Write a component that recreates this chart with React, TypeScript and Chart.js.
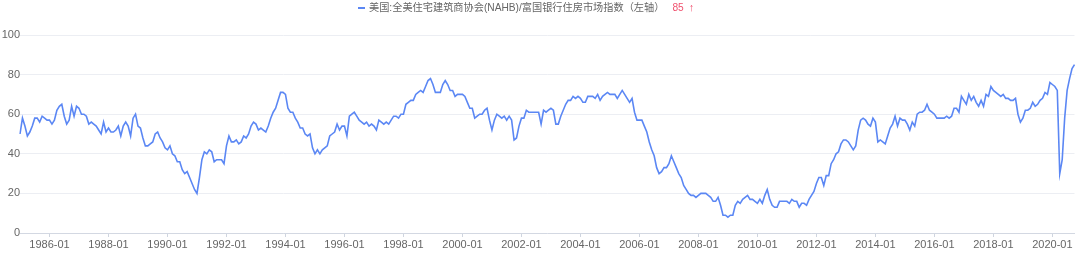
import { useEffect, useRef } from "react";
import { Chart, registerables } from "chart.js";

Chart.register(...registerables);

const SERIES_NAME = "美国:全美住宅建筑商协会(NAHB)/富国银行住房市场指数（左轴）";
const LATEST_TEXT = "85";
const ARROW_TEXT = "↑";
const START_YEAR = 1985;
const END_YEAR = 2020;
const END_MONTH = 10;

// Monthly index values, one row per year
const v1985 = [50, 58, 54, 49, 51, 54, 58, 58, 56, 59, 58, 57];
const v1986 = [57, 55, 57, 62, 64, 65, 59, 55, 57, 64, 59, 64];
const v1987 = [63, 60, 60, 59, 55, 56, 55, 54, 52, 50, 56, 51];
const v1988 = [53, 51, 51, 52, 54, 49, 54, 56, 54, 49, 58, 60];
const v1989 = [54, 53, 48, 44, 44, 45, 46, 50, 51, 48, 46, 43];
const v1990 = [42, 44, 40, 39, 36, 36, 32, 30, 31, 28, 25, 22];
const v1991 = [20, 28, 37, 41, 40, 42, 41, 36, 37, 37, 37, 35];
const v1992 = [44, 49, 46, 46, 47, 45, 46, 49, 48, 50, 54, 56];
const v1993 = [55, 52, 53, 52, 51, 54, 58, 61, 63, 67, 71, 71];
const v1994 = [70, 63, 61, 61, 58, 56, 53, 53, 50, 49, 50, 43];
const v1995 = [40, 42, 40, 42, 43, 44, 49, 50, 51, 55, 52, 54];
const v1996 = [54, 49, 59, 60, 61, 59, 57, 56, 55, 56, 54, 55];
const v1997 = [54, 52, 57, 56, 55, 56, 55, 57, 59, 59, 58, 60];
const v1998 = [60, 65, 66, 67, 67, 70, 71, 72, 71, 74, 77, 78];
const v1999 = [75, 71, 71, 71, 75, 77, 75, 72, 72, 69, 70, 70];
const v2000 = [70, 69, 66, 63, 63, 58, 59, 60, 60, 62, 63, 57];
const v2001 = [52, 57, 60, 59, 58, 59, 57, 59, 57, 47, 48, 54];
const v2002 = [58, 58, 62, 61, 61, 61, 61, 61, 55, 62, 61, 62];
const v2003 = [63, 62, 55, 55, 59, 62, 65, 67, 67, 69, 68, 69];
const v2004 = [68, 66, 66, 69, 69, 69, 68, 70, 67, 69, 70, 71];
const v2005 = [70, 70, 70, 68, 70, 72, 70, 68, 66, 68, 61, 57];
const v2006 = [57, 57, 54, 51, 46, 42, 39, 33, 30, 31, 33, 33];
const v2007 = [35, 39, 36, 33, 30, 28, 24, 22, 20, 19, 19, 18];
const v2008 = [19, 20, 20, 20, 19, 18, 16, 16, 18, 14, 9, 9];
const v2009 = [8, 9, 9, 14, 16, 15, 17, 18, 19, 17, 17, 16];
const v2010 = [15, 17, 15, 19, 22, 17, 14, 13, 13, 16, 16, 16];
const v2011 = [16, 15, 17, 16, 16, 13, 15, 15, 14, 17, 19, 21];
const v2012 = [25, 28, 28, 24, 29, 29, 35, 37, 40, 41, 45, 47];
const v2013 = [47, 46, 44, 42, 44, 52, 57, 58, 57, 55, 54, 58];
const v2014 = [56, 46, 47, 46, 45, 49, 53, 55, 59, 54, 58, 57];
const v2015 = [57, 55, 52, 56, 54, 60, 61, 61, 62, 65, 62, 61];
const v2016 = [60, 58, 58, 58, 58, 59, 58, 59, 63, 63, 61, 69];
const v2017 = [67, 65, 70, 67, 69, 66, 64, 67, 64, 70, 69, 74];
const v2018 = [72, 71, 70, 69, 70, 68, 68, 67, 67, 68, 60, 56];
const v2019 = [58, 62, 62, 63, 66, 64, 65, 67, 68, 71, 70, 76];
const v2020 = [75, 74, 72, 30, 37, 58, 72, 78, 83, 85];

const yTickValues = [0, 20, 40, 60, 80, 100];

const values: number[] = [
  ...v1985, ...v1986, ...v1987, ...v1988, ...v1989, ...v1990, ...v1991,
  ...v1992, ...v1993, ...v1994, ...v1995, ...v1996, ...v1997, ...v1998,
  ...v1999, ...v2000, ...v2001, ...v2002, ...v2003, ...v2004, ...v2005,
  ...v2006, ...v2007, ...v2008, ...v2009, ...v2010, ...v2011, ...v2012,
  ...v2013, ...v2014, ...v2015, ...v2016, ...v2017, ...v2018, ...v2019,
  ...v2020,
];

const months: string[] = [];
for (let y = START_YEAR; y <= END_YEAR; y++) {
  const last = y === END_YEAR ? END_MONTH : 12;
  for (let m = 1; m <= last; m++) {
    months.push(`${y}-${m < 10 ? "0" + m : m}`);
  }
}

const LINE_COLOR = "#5b87f4";
const FONT = "'Liberation Sans', 'Noto Sans CJK SC', sans-serif";

const legendPlugin = {
  id: "customLegend",
  afterDraw(chart: any) {
    const ctx = chart.ctx as CanvasRenderingContext2D;
    ctx.save();
    const y = 8;
    ctx.strokeStyle = LINE_COLOR;
    ctx.lineWidth = 2;
    ctx.beginPath();
    ctx.moveTo(358, y);
    ctx.lineTo(365, y);
    ctx.stroke();
    ctx.font = `10.2px ${FONT}`;
    ctx.textBaseline = "middle";
    ctx.textAlign = "left";
    ctx.fillStyle = "#666";
    const textX = 369;
    ctx.fillText(SERIES_NAME, textX, y);
    const w = ctx.measureText(SERIES_NAME).width;
    ctx.fillStyle = "#f0506e";
    const numX = textX + w + 8;
    ctx.fillText(LATEST_TEXT, numX, y);
    const nw = ctx.measureText(LATEST_TEXT).width;
    ctx.font = `11px ${FONT}`;
    ctx.fillText(ARROW_TEXT, numX + nw + 5, y);
    ctx.restore();
  },
};

export default function App() {
  const canvasRef = useRef<HTMLCanvasElement | null>(null);

  useEffect(() => {
    if (!canvasRef.current) return;
    const chart = new Chart(canvasRef.current, {
      type: "line",
      data: {
        labels: months,
        datasets: [
          {
            label: SERIES_NAME,
            data: values,
            borderColor: LINE_COLOR,
            backgroundColor: LINE_COLOR,
            borderWidth: 1.6,
            pointRadius: 0,
            tension: 0,
          },
        ],
      },
      options: {
        animation: false,
        responsive: false,
        maintainAspectRatio: false,
        layout: { padding: { top: 35, right: 5.5, left: 0, bottom: 0 } },
        plugins: {
          legend: { display: false },
          tooltip: { enabled: false },
        },
        scales: {
          x: {
            type: "category",
            offset: false,
            afterBuildTicks: (scale: any) => {
              scale.ticks = scale.ticks.filter((t: any) => {
                const lab = months[t.value];
                if (!lab) return false;
                const yr = parseInt(lab.slice(0, 4), 10);
                return lab.endsWith("-01") && yr % 2 === 0;
              });
            },
            afterFit: (scale: any) => {
              scale.height = 21;
            },
            ticks: {
              autoSkip: false,
              maxRotation: 0,
              minRotation: 0,
              padding: 1,
              color: "#666",
              font: { size: 11, family: FONT },
            },
            grid: {
              drawOnChartArea: false,
              drawTicks: true,
              tickLength: 4,
              color: "#cfd5df",
            },
            border: { display: true, color: "#d3d8e2", width: 1 },
          },
          y: {
            min: 0,
            max: 100,
            afterBuildTicks: (scale: any) => {
              scale.ticks = yTickValues.map((v) => ({ value: v }));
            },
            afterFit: (scale: any) => {
              scale.width = 20;
            },
            ticks: {
              padding: 0,
              color: "#666",
              font: { size: 11, family: FONT },
            },
            grid: {
              drawTicks: false,
              color: "#eceef3",
            },
            border: { display: false },
          },
        },
      },
      plugins: [legendPlugin],
    });
    return () => chart.destroy();
  }, []);

  return (
    <div style={{ position: "absolute", left: 0, top: 0, width: 1080, height: 254, background: "#fff" }}>
      <canvas ref={canvasRef} width={1080} height={254} style={{ width: 1080, height: 254, display: "block" }} />
    </div>
  );
}
